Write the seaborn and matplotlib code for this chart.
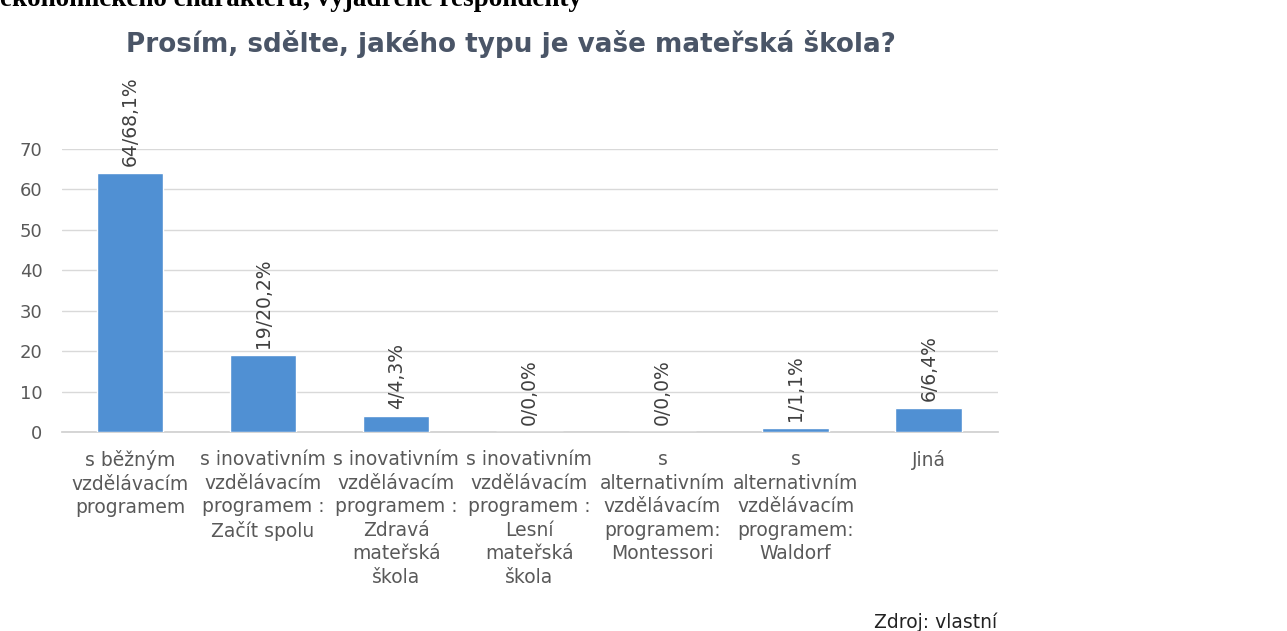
import matplotlib
matplotlib.use("Agg")
import matplotlib.pyplot as plt
import seaborn as sns
import pandas as pd

categories = [
    "s běžným\nvzdělávacím\nprogramem",
    "s inovativním\nvzdělávacím\nprogramem :\nZačít spolu",
    "s inovativním\nvzdělávacím\nprogramem :\nZdravá\nmateřská\nškola",
    "s inovativním\nvzdělávacím\nprogramem :\nLesní\nmateřská\nškola",
    "s\nalternativním\nvzdělávacím\nprogramem:\nMontessori",
    "s\nalternativním\nvzdělávacím\nprogramem:\nWaldorf",
    "Jiná",
]
counts = [64, 19, 4, 0, 0, 1, 6]
labels = ["64/68,1%", "19/20,2%", "4/4,3%", "0/0,0%", "0/0,0%", "1/1,1%", "6/6,4%"]
yticks = [0, 10, 20, 30, 40, 50, 60, 70]

df = pd.DataFrame({"cat": categories, "count": counts})

sns.set_theme(style="white")
plt.rcParams["font.family"] = ["DejaVu Sans"]

W, H = 1287, 631
fig = plt.figure(figsize=(W / 100, H / 100), dpi=100)
ax = fig.add_axes([62 / W, 1 - 432 / H, (998 - 62) / W, (432 - 149) / H])

sns.barplot(data=df, x="cat", y="count", color="#5090D3", width=0.5, ax=ax,
            saturation=1, zorder=3)

ax.set_ylim(0, 70)
ax.set_xlim(-0.51, 6.52)
ax.set_yticks(yticks)
ax.yaxis.grid(True, color="#D9D9D9", linewidth=1, zorder=0)
for s in ["left", "right", "top"]:
    ax.spines[s].set_visible(False)
ax.spines["bottom"].set_color("#D0D0D0")
ax.set_xlabel("")
ax.set_ylabel("")
ax.tick_params(axis="y", length=0, pad=14, labelsize=13, labelcolor="#595959")
ax.tick_params(axis="x", length=0, pad=13)
ax.set_xticks(range(len(categories)))
ax.set_xticklabels(categories, fontsize=13.5, color="#595959", linespacing=1.3,
                   va="top")

for i, (v, lab) in enumerate(zip(counts, labels)):
    ax.annotate(lab, (i, v), xytext=(0, 5), textcoords="offset points",
                rotation=90, ha="center", va="bottom", fontsize=13.5,
                color="#404040", annotation_clip=False, clip_on=False)

fig.text(511 / W, 1 - 52 / H, "Prosím, sdělte, jakého typu je vaše mateřská škola?",
         ha="center", va="baseline", fontsize=18.9, fontweight="bold", color="#4A5567")
fig.text(0.0, 1 - 6 / H, "ekonomického charakteru, vyjádřené respondenty",
         ha="left", va="baseline", fontsize=19.5, fontweight="bold",
         family=["Liberation Serif", "DejaVu Serif"], color="black")
fig.text(997 / W, 1 - 622 / H, "Zdroj: vlastní", ha="right", va="center",
         fontsize=13.5, color="#222222")

fig.savefig("out.png", dpi=100)
